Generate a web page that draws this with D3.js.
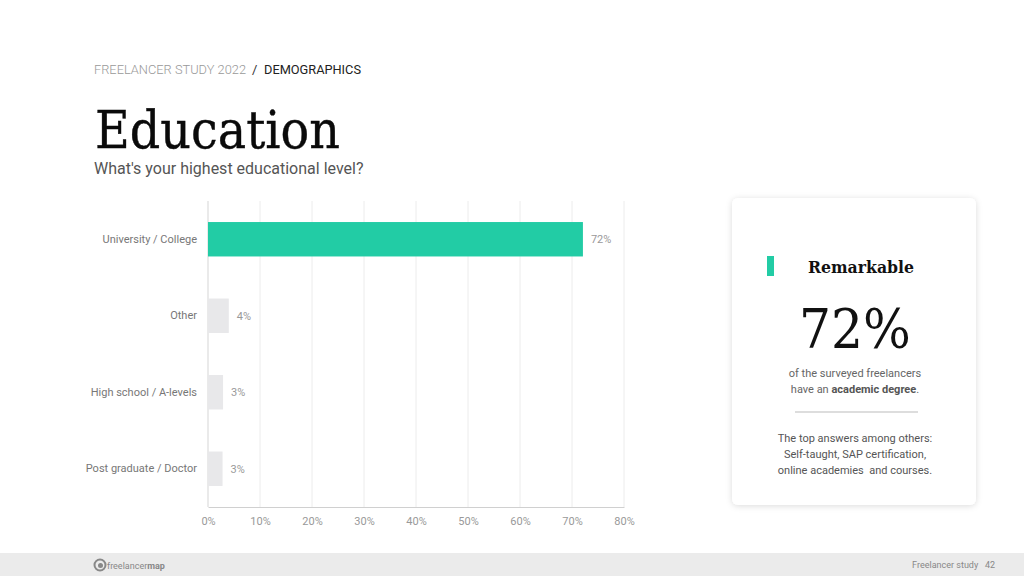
<!DOCTYPE html>
<html><head><meta charset="utf-8">
<script src="https://cdn.jsdelivr.net/npm/d3@7/dist/d3.min.js"></script>
<style>
html,body{margin:0;padding:0;background:#fff;}
svg{display:block;}
</style></head>
<body>
<svg id="c" width="1024" height="576"></svg>
<script>
const categories = ["University / College", "Other", "High school / A-levels", "Post graduate / Doctor"];
const values = [72.1, 4.0, 2.9, 2.8];
const valueLabels = ["72%", "4%", "3%", "3%"];
const xTicks = [0, 10, 20, 30, 40, 50, 60, 70, 80];
const barColors = ["#22cca5", "#e8e8ea", "#e8e8ea", "#e8e8ea"];

(function () {
const svg = d3.select("#c");
const sans = "Roboto, 'Open Sans', sans-serif";
const serif = "'DejaVu Serif', 'Liberation Serif', serif";

// header
svg.append("text").attr("x", 94).attr("y", 74).attr("font-family", sans).attr("font-size", 13)
  .attr("font-weight", 300).attr("fill", "#999").attr("textLength", 152).attr("lengthAdjust", "spacingAndGlyphs")
  .text("FREELANCER STUDY 2022");
svg.append("text").attr("x", 252).attr("y", 74).attr("font-family", sans).attr("font-size", 13)
  .attr("fill", "#333").text("/");
svg.append("text").attr("x", 264).attr("y", 74).attr("font-family", sans).attr("font-size", 13)
  .attr("fill", "#222").attr("textLength", 97).attr("lengthAdjust", "spacingAndGlyphs").text("DEMOGRAPHICS");

svg.append("text").attr("x", 95).attr("y", 148).attr("font-family", serif)
  .attr("font-size", 53).attr("fill", "#0a0a0a").attr("stroke", "#0a0a0a").attr("stroke-width", 0.4)
  .attr("textLength", 245).attr("lengthAdjust", "spacingAndGlyphs")
  .text("Education");
svg.append("text").attr("x", 94).attr("y", 174).attr("font-family", sans)
  .attr("font-size", 16).attr("fill", "#555").text("What's your highest educational level?");

// chart
const pL = 208, pR = 624, pT = 201, pB = 507;
const x = d3.scaleLinear().domain([0, 80]).range([pL, pR]);
const y = d3.scaleBand().domain(categories).range([pT, pB]).paddingInner(0.55).paddingOuter(0.275);

const g = svg.append("g");
g.selectAll("line.grid").data(xTicks).join("line")
  .attr("x1", d => x(d)).attr("x2", d => x(d)).attr("y1", pT).attr("y2", pB)
  .attr("stroke", d => d === 0 ? "#d5d5d5" : "#ececec").attr("stroke-width", 1);

g.selectAll("rect.bar").data(values).join("rect")
  .attr("x", x(0)).attr("y", (d, i) => y(categories[i]))
  .attr("width", d => x(d) - x(0)).attr("height", y.bandwidth())
  .attr("fill", (d, i) => barColors[i]);

g.selectAll("text.val").data(values).join("text")
  .attr("x", d => x(d) + 8).attr("y", (d, i) => y(categories[i]) + y.bandwidth() / 2 + 4)
  .attr("font-family", sans).attr("font-size", 11).attr("fill", "#999")
  .text((d, i) => valueLabels[i]);

const yAxis = g.append("g").attr("transform", `translate(${pL},0)`)
  .call(d3.axisLeft(y).tickSize(0).tickPadding(11));
yAxis.select(".domain").remove();
yAxis.selectAll("text").attr("font-family", sans).attr("font-size", 11).attr("fill", "#777");

const xAxis = g.append("g").attr("transform", `translate(0,${pB})`)
  .call(d3.axisBottom(x).tickValues(xTicks).tickFormat(d => d + "%").tickSize(0).tickPadding(10));
xAxis.select(".domain").attr("stroke", "#d0d0d0");
xAxis.selectAll("text").attr("font-family", sans).attr("font-size", 11).attr("fill", "#999");

// card
const defs = svg.append("defs");
const f = defs.append("filter").attr("id", "sh").attr("x", "-20%").attr("y", "-20%").attr("width", "140%").attr("height", "140%");
f.append("feDropShadow").attr("dx", 0).attr("dy", 1).attr("stdDeviation", 3).attr("flood-color", "#000").attr("flood-opacity", 0.14);
svg.append("rect").attr("x", 732).attr("y", 198).attr("width", 244).attr("height", 307).attr("rx", 6)
  .attr("fill", "#fff").attr("filter", "url(#sh)");
svg.append("rect").attr("x", 767).attr("y", 256).attr("width", 7).attr("height", 20).attr("fill", "#22cca5");
svg.append("text").attr("x", 861).attr("y", 273).attr("text-anchor", "middle").attr("font-family", serif)
  .attr("font-weight", "bold").attr("font-size", 17).attr("fill", "#111")
  .attr("textLength", 106).attr("lengthAdjust", "spacingAndGlyphs").text("Remarkable");
svg.append("text").attr("x", 855).attr("y", 348).attr("text-anchor", "middle").attr("font-family", serif)
  .attr("font-size", 54).attr("fill", "#111").attr("textLength", 112).attr("lengthAdjust", "spacingAndGlyphs").text("72%");
const t1 = svg.append("text").attr("text-anchor", "middle").attr("font-family", sans).attr("font-size", 11).attr("fill", "#666");
t1.append("tspan").attr("x", 855).attr("y", 377).text("of the surveyed freelancers");
const l2 = t1.append("tspan").attr("x", 855).attr("y", 393);
l2.append("tspan").text("have an ");
l2.append("tspan").attr("font-weight", "bold").attr("fill", "#555").text("academic degree");
l2.append("tspan").text(".");
svg.append("line").attr("x1", 795).attr("x2", 918).attr("y1", 412).attr("y2", 412).attr("stroke", "#bbb");
const t2 = svg.append("text").attr("text-anchor", "middle").attr("font-family", sans).attr("font-size", 11).attr("fill", "#555");
["The top answers among others:", "Self-taught, SAP certification,", "online academies\u00a0 and courses."].forEach((s, i) =>
  t2.append("tspan").attr("x", 855).attr("y", 442 + i * 16).text(s));

// footer
svg.append("rect").attr("x", 0).attr("y", 553).attr("width", 1024).attr("height", 23).attr("fill", "#ebebeb");
svg.append("circle").attr("cx", 100).attr("cy", 565).attr("r", 5.5).attr("fill", "none").attr("stroke", "#888").attr("stroke-width", 2);
svg.append("circle").attr("cx", 100.5).attr("cy", 565.5).attr("r", 2.5).attr("fill", "#888");
const lg = svg.append("text").attr("x", 107).attr("y", 568.5).attr("font-family", sans).attr("font-size", 9).attr("fill", "#888");
lg.append("tspan").text("freelancer");
lg.append("tspan").attr("font-weight", "bold").text("map");
svg.append("text").attr("x", 995).attr("y", 568).attr("text-anchor", "end").attr("font-family", sans)
  .attr("font-size", 9).attr("fill", "#888").text("Freelancer study\u00a0\u00a0 42");
})();
</script>
</body></html>
